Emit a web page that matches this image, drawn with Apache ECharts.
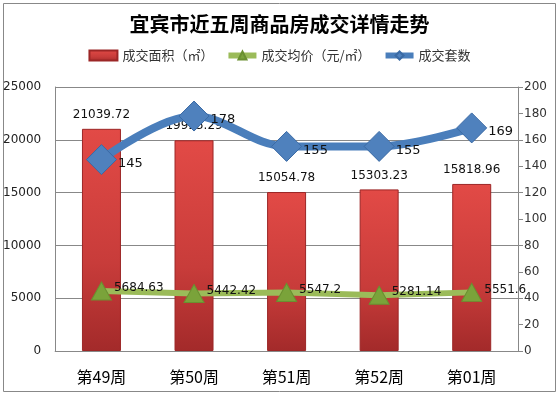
<!DOCTYPE html>
<html><head><meta charset="utf-8">
<script src="https://cdn.jsdelivr.net/npm/echarts@6/dist/echarts.min.js"></script>
<style>html,body{margin:0;padding:0;background:#fff}#c{width:559px;height:395px}</style>
</head><body><div id="c"></div>
<script>
const categories = ['第49周','第50周','第51周','第52周','第01周'];
const areaValues = [21039.72, 19955.29, 15054.78, 15303.23, 15818.96];
const priceValues = [5684.63, 5442.42, 5547.2, 5281.14, 5551.6];
const countValues = [145, 178, 155, 155, 169];
const leftTicks = [0, 5000, 10000, 15000, 20000, 25000];
const rightTicks = [0, 20, 40, 60, 80, 100, 120, 140, 160, 180, 200];

const font = '"Noto Sans CJK SC", "DejaVu Sans", sans-serif';
const chart = echarts.init(document.getElementById('c'));
chart.setOption({
  animation: false,
  backgroundColor: '#fff',
  graphic: [{type:'rect', shape:{x:3.5,y:3.5,width:552,height:388}, style:{fill:null, stroke:'#888', lineWidth:1}}],
  title: {text: '宜宾市近五周商品房成交详情走势', left: 'center', top: 9,
    textStyle: {fontSize: 20, fontWeight: 'bold', color: '#000', fontFamily: font}},
  legend: {top: 44, left: 'center', itemGap: 12, itemWidth: 28, itemHeight: 10,
    textStyle: {fontSize: 13, color: '#333', fontFamily: font},
    data: [
      {name: '成交面积（㎡）', icon: 'rect'},
      {name: '成交均价（元/㎡）', lineStyle: {width: 6}},
      {name: '成交套数', lineStyle: {width: 6}}
    ]},
  grid: {left: 52, right: 41, top: 87, bottom: 44},
  xAxis: {type: 'category', data: categories,
    axisLine: {lineStyle: {color: '#888'}}, axisTick: {show: false},
    axisLabel: {fontSize: 16, color: '#000', margin: 18, fontFamily: font}},
  yAxis: [
    {type: 'value', min: 0, max: 25000, interval: 5000,
      axisLine: {show: true, lineStyle: {color: '#888'}}, axisTick: {show: false},
      axisLabel: {fontSize: 12, color: '#222', margin: 14, fontFamily: '"DejaVu Sans", sans-serif',
        formatter: v => String(v)},
      splitLine: {lineStyle: {color: '#888'}}},
    {type: 'value', min: 0, max: 200, interval: 20, position: 'right',
      axisLine: {show: true, lineStyle: {color: '#888'}},
      axisTick: {show: true, inside: false, length: 5, lineStyle: {color: '#888'}},
      axisLabel: {fontSize: 12, color: '#333', margin: 6, fontFamily: '"DejaVu Sans", sans-serif'},
      splitLine: {show: false}}
  ],
  series: [
    {name: '成交面积（㎡）', type: 'bar', data: areaValues, barWidth: 39, yAxisIndex: 0,
      itemStyle: {color: new echarts.graphic.LinearGradient(0,0,0,1,[
        {offset:0,color:'#e24a46'},{offset:0.6,color:'#c83c3a'},{offset:1,color:'#a32a2a'}]),
        borderColor: '#9c2626', borderWidth: 1},
      label: {show: true, position: 'top', distance: 8, fontSize: 12, color: '#111',
        fontFamily: '"DejaVu Sans", sans-serif'}},
    {name: '成交均价（元/㎡）', type: 'line', data: priceValues, yAxisIndex: 0,
      lineStyle: {color: '#9bbb59', width: 6},
      itemStyle: {color: '#7aa33a', borderColor: '#6a9030', borderWidth: 1},
      symbol: 'triangle', symbolSize: [20, 18],
      label: {show: true, position: 'right', distance: 2, offset: [0, -3], fontSize: 12, color: '#111',
        fontFamily: '"DejaVu Sans", sans-serif'}},
    {name: '成交套数', type: 'line', data: countValues, yAxisIndex: 1, smooth: 0.35,
      lineStyle: {color: '#4a7ebb', width: 8},
      itemStyle: {color: '#4f81bd', borderColor: '#3a6aa5', borderWidth: 1},
      symbol: 'diamond', symbolSize: [30, 30], z: 5,
      label: {show: true, position: 'right', distance: 1, offset: [0, 4], fontSize: 13, color: '#111',
        fontFamily: '"DejaVu Sans", sans-serif'}}
  ]
});
</script></body></html>
